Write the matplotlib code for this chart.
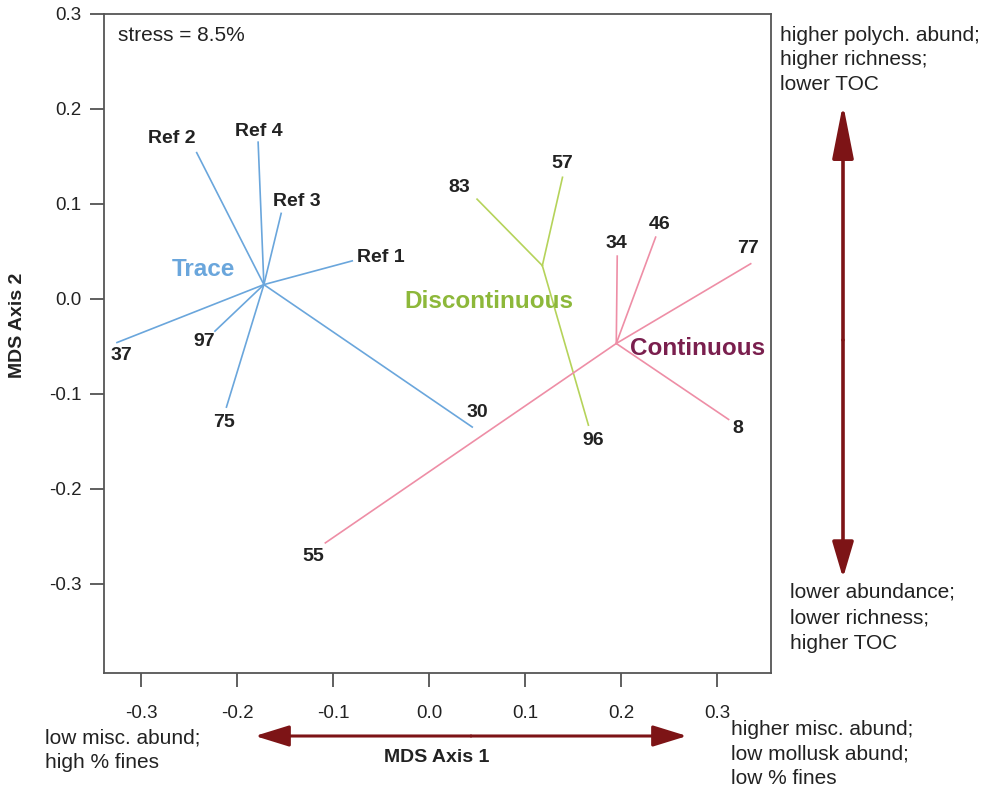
import matplotlib.pyplot as plt
from matplotlib.patches import FancyArrowPatch

plt.rcParams['font.family'] = ['Liberation Sans', 'DejaVu Sans']

# group centres and the sites hanging off them (MDS axis 1, axis 2)
trace_centre = (-0.172, 0.015)
trace_sites = ["Ref 2", "Ref 4", "Ref 3", "Ref 1", "37", "97", "75", "30"]
trace_x = [-0.242, -0.178, -0.154, -0.080, -0.325, -0.223, -0.211, 0.045]
trace_y = [0.154, 0.165, 0.090, 0.040, -0.046, -0.034, -0.114, -0.135]

disc_centre = (0.118, 0.035)
disc_sites = ["83", "57", "96"]
disc_x = [0.050, 0.139, 0.166]
disc_y = [0.105, 0.128, -0.133]

cont_centre = (0.195, -0.047)
cont_sites = ["34", "46", "77", "8", "55"]
cont_x = [0.196, 0.236, 0.335, 0.312, -0.108]
cont_y = [0.045, 0.065, 0.037, -0.127, -0.257]

# label offsets in pixels from the line end
label_off = {"Ref 2": (-25, 14), "Ref 4": (1, 11), "Ref 3": (16, 12), "Ref 1": (29, 3),
             "37": (4, -13), "97": (-11, -10), "75": (-2, -15), "30": (5, 15),
             "83": (-18, 12), "57": (0, 14), "96": (5, -15),
             "34": (-1, 13), "46": (4, 13), "77": (-3, 15), "8": (9, -9), "55": (-12, -14)}

fig = plt.figure(figsize=(9.85, 7.86), dpi=100)
ax = fig.add_axes([0.1056, 0.1438, 0.677, 0.8384])


def draw_group(centre, names, xs, ys, colour):
    for n, x, y in zip(names, xs, ys):
        ax.plot([centre[0], x], [centre[1], y], color=colour, lw=1.2)
        ax.annotate(n, (x, y), xytext=label_off[n], textcoords='offset pixels',
                    ha='center', va='center', fontsize=14, fontweight='bold',
                    color='#222222')


draw_group(trace_centre, trace_sites, trace_x, trace_y, '#6aa6dc')
draw_group(disc_centre, disc_sites, disc_x, disc_y, '#b5d35a')
draw_group(cont_centre, cont_sites, cont_x, cont_y, '#ee8ea6')

ax.text(-0.235, 0.031, "Trace", color='#6aa6dc', fontsize=17.5, fontweight='bold',
        ha='center', va='center')
ax.text(0.0625, -0.003, "Discontinuous", color='#8db83a', fontsize=17.5, fontweight='bold',
        ha='center', va='center')
ax.text(0.280, -0.052, "Continuous", color='#7a1f4e', fontsize=17.5, fontweight='bold',
        ha='center', va='center')
ax.text(0.021, 0.967, "stress = 8.5%", transform=ax.transAxes, fontsize=15,
        color='#222222', va='center')

ax.set_xlim(-0.3385, 0.356)
ax.set_ylim(-0.394, 0.300)
ax.set_xticks([-0.3, -0.2, -0.1, 0.0, 0.1, 0.2, 0.3])
ax.set_yticks([-0.3, -0.2, -0.1, 0.0, 0.1, 0.2, 0.3])
ax.set_xticklabels(['-0.3', '-0.2', '-0.1', '0.0', '0.1', '0.2', '0.3'])
ax.set_yticklabels(['-0.3', '-0.2', '-0.1', '0.0', '0.1', '0.2', '0.3'])
ax.tick_params(length=10, width=1.2, color='#444444', labelsize=13.5,
               labelcolor='#222222')
ax.tick_params(axis='x', pad=13)
ax.tick_params(axis='y', pad=6)
for s in ax.spines.values():
    s.set_color('#555555')
    s.set_linewidth(1.3)

fig.text(18 / 985, 1 - 325 / 786, "MDS Axis 2", rotation=90, fontsize=14,
         fontweight='bold', ha='center', va='center', color='#222222')
fig.text(437 / 985, 1 - 757 / 786, "MDS Axis 1", fontsize=14,
         fontweight='bold', ha='center', va='center', color='#222222')

arrow_col = '#7d1416'


def fig_arrow(start, end, head_len, lw):
    # start/end in figure pixels measured from the top-left
    fig.patches.append(FancyArrowPatch((start[0], 786 - start[1]), (end[0], 786 - end[1]),
                                       transform=None, shrinkA=0, shrinkB=0,
                                       arrowstyle='-|>,head_length=%g,head_width=6.5' % head_len,
                                       color=arrow_col, lw=lw, mutation_scale=1))


fig_arrow((471, 736), (255, 736), 21, 2.2)
fig_arrow((471, 736), (687, 736), 21, 2.2)
fig_arrow((843, 340), (843, 104), 33, 2.6)
fig_arrow((843, 340), (843, 578), 22, 2.6)

corner = dict(fontsize=15, va='top', ha='left', color='#222222', linespacing=1.35)
fig.text(780 / 985, 1 - 26 / 786, "higher polych. abund;\nhigher richness;\nlower TOC", **corner)
fig.text(790 / 985, 1 - 583 / 786, "lower abundance;\nlower richness;\nhigher TOC",
         **dict(corner, linespacing=1.42))
fig.text(45 / 985, 1 - 729 / 786, "low misc. abund;\nhigh % fines", **corner)
fig.text(731 / 985, 1 - 720 / 786, "higher misc. abund;\nlow mollusk abund;\nlow % fines", **corner)

fig.savefig('out.png', dpi=100)
